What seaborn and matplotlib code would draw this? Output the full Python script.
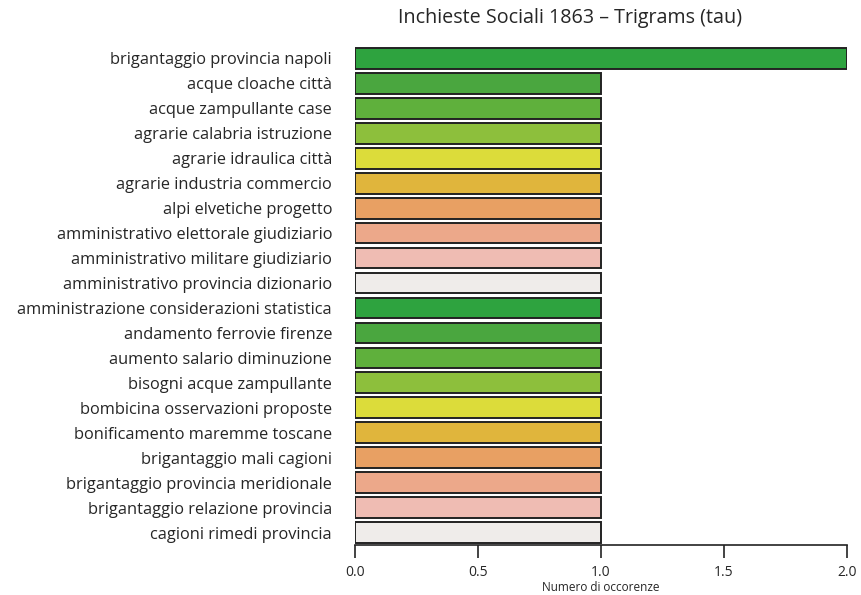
import matplotlib
matplotlib.use("Agg")
import matplotlib.pyplot as plt
import seaborn as sns
import pandas as pd

# trigrams and counts
trigrams = [
    "brigantaggio provincia napoli",
    "acque cloache città",
    "acque zampullante case",
    "agrarie calabria istruzione",
    "agrarie idraulica città",
    "agrarie industria commercio",
    "alpi elvetiche progetto",
    "amministrativo elettorale giudiziario",
    "amministrativo militare giudiziario",
    "amministrativo provincia dizionario",
    "amministrazione considerazioni statistica",
    "andamento ferrovie firenze",
    "aumento salario diminuzione",
    "bisogni acque zampullante",
    "bombicina osservazioni proposte",
    "bonificamento maremme toscane",
    "brigantaggio mali cagioni",
    "brigantaggio provincia meridionale",
    "brigantaggio relazione provincia",
    "cagioni rimedi provincia",
]
counts = [2, 1, 1, 1, 1, 1, 1, 1, 1, 1, 1, 1, 1, 1, 1, 1, 1, 1, 1, 1]

# terrain-like palette, repeated every 10 bars
terrain = ["#2ea33f", "#4aa63f", "#5fb03c", "#8dbf3c", "#dcdc3a",
           "#e0b53c", "#e8a063", "#eca88a", "#efbcb3", "#efecea"]
colors = [terrain[i % 10] for i in range(len(trigrams))]

xticks = [0.0, 0.5, 1.0, 1.5, 2.0]

df = pd.DataFrame({"trigram": trigrams, "count": counts})

sns.set_style("white")
plt.rcParams["font.family"] = ["Open Sans", "DejaVu Sans"]

fig = plt.figure(figsize=(8.61, 5.95), dpi=100)
ax = fig.add_axes([355 / 861, 1 - 545 / 595, 492 / 861, 499 / 595])

sns.barplot(data=df, x="count", y="trigram", hue="trigram", palette=colors,
            orient="h", width=0.83, edgecolor="#222222", linewidth=1.4,
            saturation=1, legend=False, ax=ax)

ax.set_xlim(0, 2)
ax.set_ylim(len(trigrams) - 1 + 0.5, -0.5)
ax.set_xticks(xticks)
ax.set_xticklabels([f"{t:.1f}" for t in xticks], fontsize=10)
ax.tick_params(axis="x", bottom=True, length=9.4, width=1.2, color="#222222",
               pad=5)
ax.tick_params(axis="y", length=0, pad=16.5, labelsize=11.8)
ax.set_ylabel("")
ax.set_xlabel("Numero di occorenze", fontsize=8.5, labelpad=0.5)

for s in ["top", "right", "left"]:
    ax.spines[s].set_visible(False)
ax.spines["bottom"].set_linewidth(1.2)
ax.spines["bottom"].set_color("#222222")

fig.text(570 / 861, 1 - 18 / 595, "Inchieste Sociali 1863 – Trigrams (tau)",
         ha="center", va="center", fontsize=14.2)

fig.savefig("out.png", dpi=100)
